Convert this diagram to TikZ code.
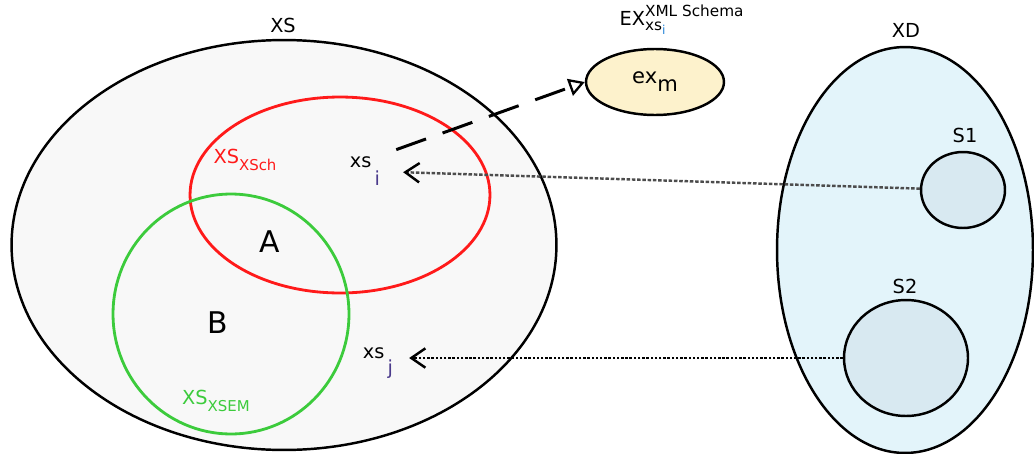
\documentclass[tikz,border=0pt]{standalone}
\usepackage{amsmath}
\usepackage{xcolor}
\usepackage{fontspec}
\setmainfont{DejaVu Sans}
\usetikzlibrary{shapes.geometric,arrows.meta}

\definecolor{setgray}{HTML}{F8F8F8}
\definecolor{docblue}{HTML}{E3F4FA}
\definecolor{schemablue}{HTML}{D8E9F1}
\definecolor{exyellow}{HTML}{FDF2CC}
\definecolor{xschred}{HTML}{FF1A1A}
\definecolor{xsemgreen}{HTML}{3CCB3C}
\definecolor{idxpurple}{HTML}{4B3B8C}
\definecolor{idxblue}{HTML}{2A86D8}

\begin{document}
\begin{tikzpicture}[x=0.02cm,y=-0.02cm,
  set/.style={ellipse,draw,line width=1.4pt,inner sep=0pt},
  lbl/.style={inner sep=1pt,font=\fontsize{11}{13}\selectfont},
  barb/.style={-{Straight Barb[length=8pt,width=11pt,color=black]}}]
\useasboundingbox (0,0) rectangle (1034,453);
% the set XS and its two subsets
\node[set,fill=setgray,minimum width=10.9cm,minimum height=8.2cm] (xs) at (284,245) {};
\node[lbl] (xslbl) at (283,25) {XS};
\node[set,draw=xschred,line width=1.6pt,minimum width=6.0cm,minimum height=3.92cm] (xsch) at (340,195) {};
\node[set,draw=xsemgreen,line width=1.6pt,minimum width=4.72cm,minimum height=4.8cm] (xsem) at (231,314) {};
\node[lbl,text=xschred] (xschlbl) at (245,160) {XS\raisebox{-4pt}{\fontsize{8.5}{10}\selectfont XSch}};
\node[lbl,text=xsemgreen] (xsemlbl) at (216,401) {XS\raisebox{-4pt}{\fontsize{8.5}{10}\selectfont XSEM}};
\node[font=\fontsize{17}{20}\selectfont] (a) at (270,242) {A};
\node[font=\fontsize{17}{20}\selectfont] (b) at (218,323) {B};
% elements xs_i and xs_j
\node[lbl] (xsi) at (365,171) {xs\raisebox{-10pt}{\,\textcolor{idxpurple}{i}}};
\node[lbl] (xsj) at (378,363) {xs\raisebox{-9pt}{\,\textcolor{idxpurple}{j}}};
% example of xs_i
\node[set,fill=exyellow,minimum width=2.76cm,minimum height=1.32cm,
  font=\fontsize{12}{14}\selectfont] (exm) at (655,82) {ex\raisebox{-4.5pt}{m}};
\node[lbl] (exlbl) at (682,20)
  {$\text{EX}^{\text{\fontsize{8.7}{10}\selectfont XML Schema}}_{\text{\fontsize{8.7}{10}\selectfont xs}_{\textcolor{idxblue}{\text{\fontsize{7}{8}\selectfont i}}}}$};
% the set XD
\node[set,fill=docblue,minimum width=5.12cm,minimum height=8.12cm] (xd) at (905,250) {};
\node[lbl] (xdlbl) at (906,30) {XD};
\node[set,fill=schemablue,minimum width=1.68cm,minimum height=1.52cm] (s1) at (963,190) {};
\node[lbl] (s1lbl) at (965,135) {S1};
\node[set,fill=schemablue,minimum width=2.48cm,minimum height=2.32cm] (s2) at (906,358) {};
\node[lbl] (s2lbl) at (905,286) {S2};
% connectors
\draw[gray!60!black,dash pattern=on 2pt off 1pt,line width=1.4pt,barb,shorten >=0.42cm] (s1) -- (xsi);
\draw[densely dotted,line width=1.4pt,barb,shorten >=0.28cm] (s2.west) -- (s2.west -| xsj.east);
\draw[line width=1.7pt,dash pattern=on 18pt off 10pt,shorten <=0.3cm,
  -{Triangle[open,length=9pt,width=10pt,line width=1.3pt]}] (xsi.north east) -- (exm.west);
\end{tikzpicture}
\end{document}
